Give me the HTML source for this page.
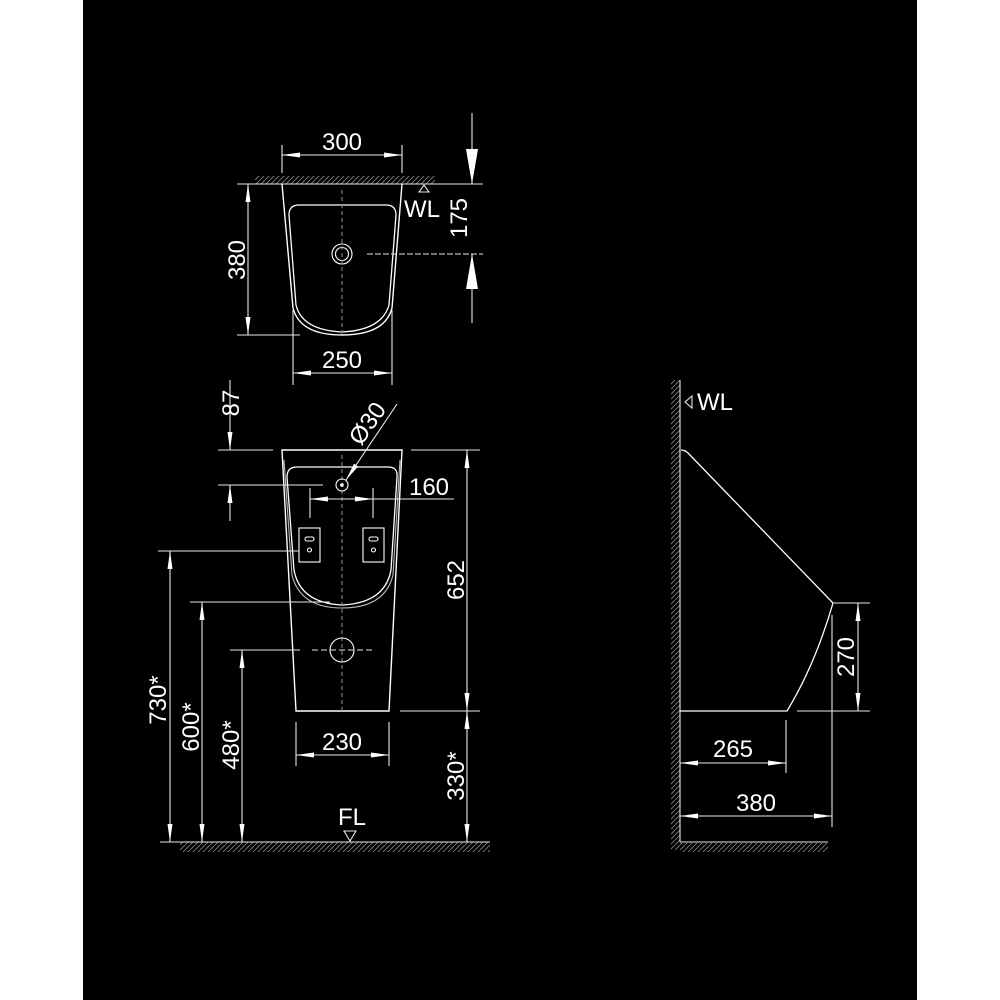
<!DOCTYPE html>
<html><head><style>
html,body{margin:0;padding:0;background:#fff;}
svg{display:block}
text{font-family:"Liberation Sans",sans-serif;fill:#fff;font-size:24px}
</style></head><body>
<svg width="1000" height="1000" viewBox="0 0 1000 1000" xmlns="http://www.w3.org/2000/svg">
<defs>
<pattern id="h" width="5" height="5" patternUnits="userSpaceOnUse"><path d="M0 5 L5 0" stroke="#888" stroke-width="0.8"/></pattern>
<marker id="a" viewBox="0 0 10 10" refX="10" refY="5" markerWidth="18" markerHeight="5" markerUnits="userSpaceOnUse" orient="auto-start-reverse" preserveAspectRatio="none"><path d="M0 0 L10 5 L0 10z" fill="#fff"/></marker>
<marker id="b" viewBox="0 0 10 10" refX="10" refY="5" markerWidth="35" markerHeight="12" markerUnits="userSpaceOnUse" orient="auto-start-reverse" preserveAspectRatio="none"><path d="M0 0 L10 5 L0 10z" fill="#fff"/></marker>
</defs>
<rect x="83" y="0" width="834" height="1000" fill="#000"/>
<g stroke="#e8e8e8" stroke-width="1.1" fill="none">
<!-- TOP VIEW -->
<rect x="255" y="176" width="180" height="8" fill="url(#h)" stroke="none"/>
<line x1="237" y1="184" x2="483" y2="184"/>
<path d="M282 184 L293 308 Q300 335 342 335 Q385 335 392 308 L402 184" stroke="#fff" stroke-width="1.4"/>
<path d="M289 215 Q289 205 299 205 L386 205 Q396 205 396 215 L389 305 Q382 330 342 332 Q302 330 296 305 Z" stroke="#fff" stroke-width="1.3"/>
<circle cx="342" cy="254" r="10" stroke="#fff"/><circle cx="342" cy="254" r="6.5" stroke="#fff"/>
<line x1="342" y1="190" x2="342" y2="335" stroke-dasharray="4 3" stroke="#888"/>
<line x1="282" y1="145" x2="282" y2="173"/><line x1="402" y1="145" x2="402" y2="173"/>
<line x1="282" y1="155" x2="402" y2="155" marker-start="url(#a)" marker-end="url(#a)"/>
<line x1="248" y1="184" x2="248" y2="335" marker-start="url(#a)" marker-end="url(#a)"/>
<line x1="237" y1="335" x2="300" y2="335"/>
<line x1="293" y1="310" x2="293" y2="385"/><line x1="392" y1="310" x2="392" y2="385"/>
<line x1="293" y1="373" x2="392" y2="373" marker-start="url(#a)" marker-end="url(#a)"/>
<line x1="472" y1="113" x2="472" y2="184" marker-end="url(#b)"/>
<line x1="472" y1="323" x2="472" y2="254" marker-end="url(#b)"/>
<line x1="367" y1="254" x2="483" y2="254" stroke-dasharray="6 2"/>
<path d="M419 192 L424 185 L429 192 Z"/>
<!-- FRONT VIEW -->
<path d="M282 450 L402 450 L389 711 L296 711 Z" stroke="#fff" stroke-width="1.4"/>
<path d="M287 477 Q287 467 297 467 L388 467 Q398 467 397 477 L391 570 Q385 603 342 605 Q300 603 294 570 Z" stroke="#fff" stroke-width="1.3"/>
<path d="M284 460 L292 575 Q300 608 342 608 Q385 608 393 575 L400 460" stroke="#bbb"/>
<line x1="342" y1="455" x2="342" y2="711" stroke-dasharray="4 3" stroke="#888"/>
<circle cx="342" cy="485" r="6" stroke="#fff"/><circle cx="342" cy="485" r="1.3" fill="#fff"/>
<circle cx="342" cy="650" r="12" stroke="#fff"/>
<rect x="299" y="528" width="21" height="34" stroke="#fff"/><rect x="363" y="528" width="21" height="34" stroke="#fff"/>
<rect x="305" y="537" width="9" height="4" rx="2" stroke="#fff"/><rect x="369" y="537" width="9" height="4" rx="2" stroke="#fff"/>
<circle cx="309.5" cy="550" r="2" stroke="#fff"/><circle cx="373.5" cy="550" r="2" stroke="#fff"/>
<line x1="230" y1="380" x2="230" y2="450" marker-end="url(#a)"/>
<line x1="218" y1="450" x2="273" y2="450"/><line x1="411" y1="450" x2="480" y2="450"/>
<line x1="218" y1="485" x2="323" y2="485"/>
<line x1="230" y1="521" x2="230" y2="485" marker-end="url(#a)"/>
<line x1="310" y1="488" x2="310" y2="518"/><line x1="373" y1="488" x2="373" y2="518"/>
<line x1="310" y1="499" x2="373" y2="499" marker-start="url(#a)" marker-end="url(#a)"/>
<line x1="373" y1="499" x2="454" y2="499"/>
<line x1="397" y1="404" x2="346" y2="480" marker-end="url(#a)"/>
<line x1="467" y1="450" x2="467" y2="711" marker-start="url(#a)" marker-end="url(#a)"/>
<line x1="400" y1="711" x2="480" y2="711"/>
<line x1="467" y1="711" x2="467" y2="842" marker-start="url(#a)" marker-end="url(#a)"/>
<line x1="296" y1="722" x2="296" y2="766"/><line x1="389" y1="722" x2="389" y2="766"/>
<line x1="296" y1="755" x2="389" y2="755" marker-start="url(#a)" marker-end="url(#a)"/>
<line x1="158" y1="551" x2="299" y2="551"/>
<line x1="170" y1="551" x2="170" y2="842" marker-start="url(#a)" marker-end="url(#a)"/>
<line x1="190" y1="602" x2="330" y2="602"/>
<line x1="202" y1="602" x2="202" y2="842" marker-start="url(#a)" marker-end="url(#a)"/>
<line x1="230" y1="650" x2="300" y2="650"/><line x1="312" y1="650" x2="372" y2="650" stroke-dasharray="6 3"/>
<line x1="242" y1="650" x2="242" y2="842" marker-start="url(#a)" marker-end="url(#a)"/>
<rect x="180" y="842" width="310" height="10" fill="url(#h)" stroke="none"/>
<line x1="160" y1="842" x2="490" y2="842"/>
<path d="M344 831 L356 831 L350 841 Z"/>
<!-- SIDE VIEW -->
<rect x="671" y="380" width="9" height="470" fill="url(#h)" stroke="none"/>
<rect x="680" y="843" width="148" height="9" fill="url(#h)" stroke="none"/>
<line x1="680" y1="380" x2="680" y2="842"/>
<line x1="680" y1="842" x2="828" y2="842"/>
<path d="M692 396 L685 402 L692 408 Z"/>
<path d="M681 450 Q685 450 688 453 L833 603 Q815 665 787 711 L680 711" stroke="#fff" stroke-width="1.3"/>
<line x1="833" y1="603" x2="870" y2="603"/><line x1="797" y1="711" x2="870" y2="711"/>
<line x1="858" y1="603" x2="858" y2="711" marker-start="url(#a)" marker-end="url(#a)"/>
<line x1="832" y1="615" x2="832" y2="827"/>
<line x1="786" y1="720" x2="786" y2="773"/>
<line x1="680" y1="763" x2="786" y2="763" marker-start="url(#a)" marker-end="url(#a)"/>
<line x1="680" y1="816" x2="832" y2="816" marker-start="url(#a)" marker-end="url(#a)"/>
</g>
<text x="342" y="150" text-anchor="middle">300</text>
<text x="342" y="368" text-anchor="middle">250</text>
<text transform="translate(245,260) rotate(-90)" text-anchor="middle">380</text>
<text transform="translate(467,218) rotate(-90)" text-anchor="middle">175</text>
<text x="404" y="217" font-size="23">WL</text>
<text transform="translate(239,403) rotate(-90)" text-anchor="middle">87</text>
<text transform="translate(374,428) rotate(-55)" text-anchor="middle">Ø30</text>
<text x="429" y="495" text-anchor="middle">160</text>
<text transform="translate(464,580) rotate(-90)" text-anchor="middle">652</text>
<text transform="translate(464,776) rotate(-90)" text-anchor="middle">330*</text>
<text x="342" y="750" text-anchor="middle">230</text>
<text transform="translate(166,700) rotate(-90)" text-anchor="middle">730*</text>
<text transform="translate(199,727) rotate(-90)" text-anchor="middle">600*</text>
<text transform="translate(239,745) rotate(-90)" text-anchor="middle">480*</text>
<text x="352" y="825" text-anchor="middle">FL</text>
<text x="697" y="410" font-size="23">WL</text>
<text transform="translate(854,657) rotate(-90)" text-anchor="middle">270</text>
<text x="733" y="757" text-anchor="middle">265</text>
<text x="756" y="811" text-anchor="middle">380</text>
</svg>
</body></html>
